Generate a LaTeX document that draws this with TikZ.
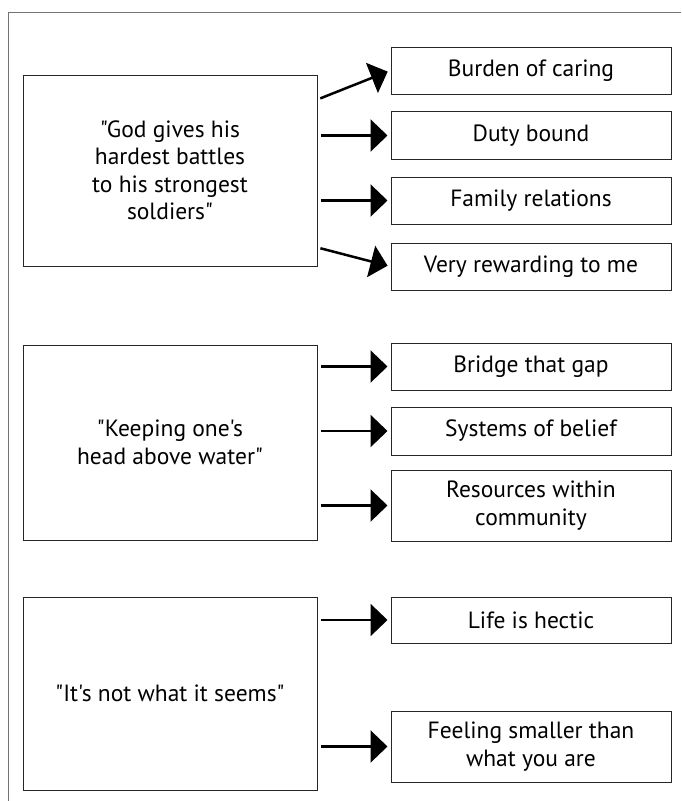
\documentclass[tikz,border=0pt]{standalone}
\usepackage{fontspec}
\setmainfont{PT Sans}[Ligatures=TeXOff]
\usetikzlibrary{arrows.meta}
\tikzstyle{quote}=[draw=black!85,line width=1pt,minimum width=294pt,inner sep=0pt,align=center]
\tikzstyle{theme}=[draw=black!85,line width=1pt,minimum width=280pt,inner sep=0pt,align=center]
\tikzstyle{link}=[draw,line width=2.5pt,-{Triangle[length=17pt,width=32pt]},shorten <=3pt,shorten >=3pt]

\begin{document}
\begin{tikzpicture}[x=1pt,y=-1pt,font=\fontsize{23.5}{27.5}\selectfont]
    \useasboundingbox (0,0) rectangle (681,801);
    % frame along the top and the left
    \draw[black!55,line width=1pt] (8,801) -- (8,12) -- (681,12);

    % the three quotes
    \node[quote,minimum height=191pt] (Q_1) at (170,170.5) {"God gives his\\hardest battles\\to his strongest\\soldiers"};
    \node[quote,minimum height=195pt] (Q_2) at (170,442.5) {"Keeping one's\\head above water"};
    \node[quote,minimum height=193pt] (Q_3) at (170,693.5) {"It's not what it seems"};

    % the themes on the right
    \foreach \pos/\name/\h/\txt in {{(531,70.5)/T_1/47/Burden of caring}, {(531,135.5)/T_2/48/Duty bound},
            {(531,200.5)/T_3/47/Family relations}, {(531,266.5)/T_4/47/Very rewarding to me},
            {(531,366.5)/T_5/47/Bridge that gap}, {(531,431)/T_6/48/Systems of belief},
            {(531,505.5)/T_7/71/Resources within\\community}, {(531,620)/T_8/46/Life is hectic},
            {(531,746.5)/T_9/71/Feeling smaller than\\what you are}}
        \node[theme,minimum height=\h pt] (\name) at \pos {\txt};

    % Connect quotes with themes
    \draw[link] ([yshift=-25pt]Q_1.north east) -- (T_1.west);
    \draw[link] ([yshift=19pt]Q_1.south east) -- (T_4.west);
    \foreach \source/ \dest in {Q_1/T_2, Q_1/T_3, Q_2/T_5, Q_2/T_6, Q_2/T_7, Q_3/T_8, Q_3/T_9}
        \draw[link] (\source.east |- \dest.west) -- (\dest.west);

\end{tikzpicture}
\end{document}
